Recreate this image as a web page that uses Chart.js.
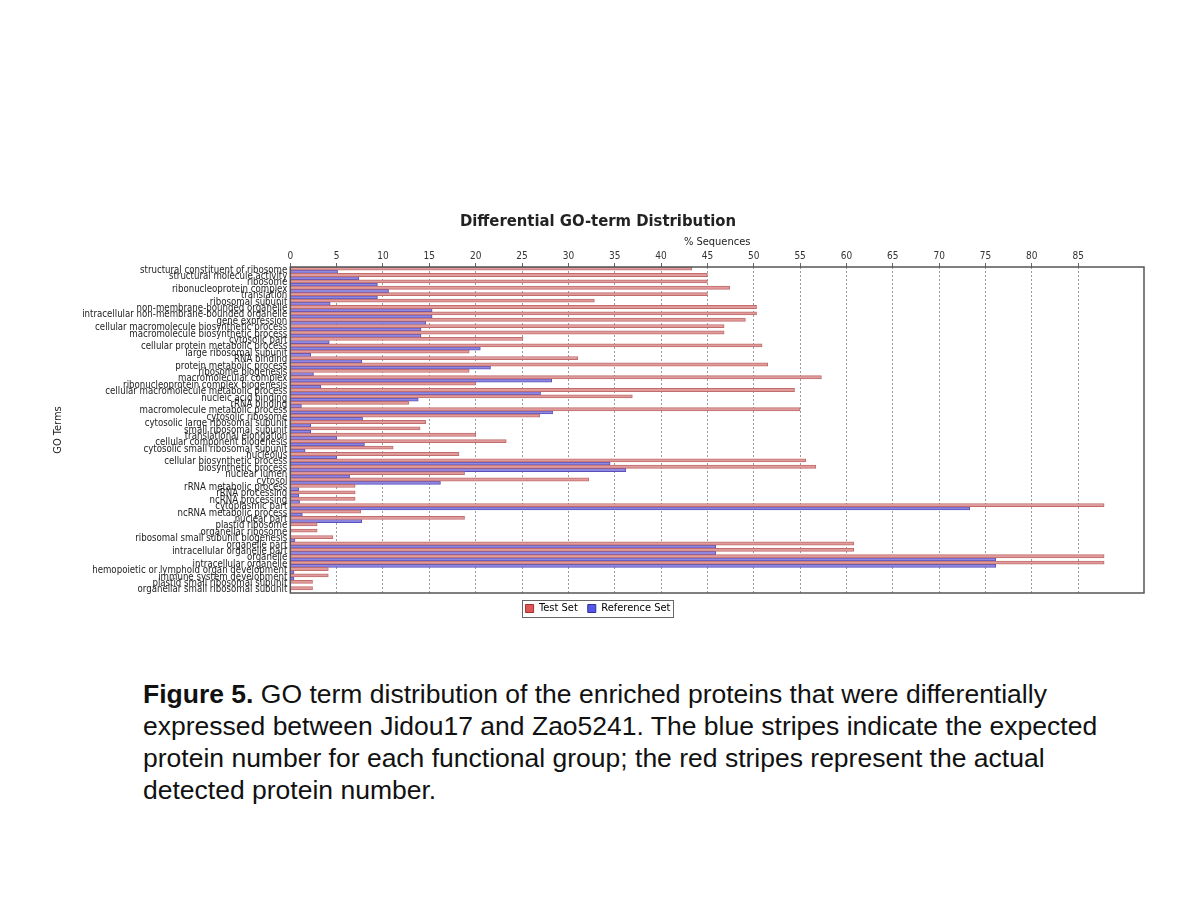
<!DOCTYPE html>
<html>
<head>
<meta charset="utf-8">
<script src="https://cdn.jsdelivr.net/npm/chart.js@4/dist/chart.umd.min.js"></script>
<style>
  html, body { margin: 0; padding: 0; background: #fff; }
  body { width: 1200px; height: 900px; position: relative; overflow: hidden; }
  #wrap { position: absolute; left: 30px; top: 208px; width: 1130px; height: 416px; }
  #caption {
    position: absolute; left: 143px; top: 678px; width: 1050px;
    font-family: 'Liberation Sans', Arial, sans-serif; font-size: 26.5px;
    line-height: 32px; color: #111; white-space: nowrap;
  }
</style>
</head>
<body>
<div id="wrap"><canvas id="chart"></canvas></div>
<div id="caption">
  <b>Figure 5.</b> GO term distribution of the enriched proteins that were differentially<br>
  expressed between Jidou17 and Zao5241. The blue stripes indicate the expected<br>
  protein number for each functional group; the red stripes represent the actual<br>
  detected protein number.
</div>
<script>
// ─── Data ─────────────────────────────────────────────────────────────────────

const categories = [
  'structural constituent of ribosome', 'structural molecule activity', 'ribosome',
  'ribonucleoprotein complex', 'translation', 'ribosomal subunit',
  'non-membrane-bounded organelle', 'intracellular non-membrane-bounded organelle',
  'gene expression', 'cellular macromolecule biosynthetic process',
  'macromolecule biosynthetic process', 'cytosolic part', 'cellular protein metabolic process',
  'large ribosomal subunit', 'RNA binding', 'protein metabolic process', 'ribosome biogenesis',
  'macromolecular complex', 'ribonucleoprotein complex biogenesis',
  'cellular macromolecule metabolic process', 'nucleic acid binding', 'rRNA binding',
  'macromolecule metabolic process', 'cytosolic ribosome', 'cytosolic large ribosomal subunit',
  'small ribosomal subunit', 'translational elongation', 'cellular component biogenesis',
  'cytosolic small ribosomal subunit', 'nucleolus', 'cellular biosynthetic process',
  'biosynthetic process', 'nuclear lumen', 'cytosol', 'rRNA metabolic process',
  'rRNA processing', 'ncRNA processing', 'cytoplasmic part', 'ncRNA metabolic process',
  'nuclear part', 'plastid ribosome', 'organellar ribosome',
  'ribosomal small subunit biogenesis', 'organelle part', 'intracellular organelle part',
  'organelle', 'intracellular organelle', 'hemopoietic or lymphoid organ development',
  'immune system development', 'plastid small ribosomal subunit',
  'organellar small ribosomal subunit',
];

const testSet = [
  43.3, 45.0, 45.0, 47.4, 45.0, 32.8, 50.3, 50.3, 49.1, 46.8,
  46.8, 25.1, 50.9, 19.3, 31.0, 51.5, 19.3, 57.3, 20.0, 54.4,
  36.9, 12.8, 55.0, 26.9, 14.6, 14.0, 20.0, 23.3, 11.1, 18.2,
  55.6, 56.7, 18.8, 32.2, 7.0, 7.0, 7.0, 87.8, 7.6, 18.8,
  2.9, 2.9, 4.6, 60.8, 60.8, 87.8, 87.8, 4.1, 4.1, 2.4,
  2.4,
];

const referenceSet = [
  5.1, 7.4, 9.4, 10.6, 9.4, 4.3, 15.3, 15.3, 14.6, 14.1,
  14.1, 4.2, 20.5, 2.2, 7.7, 21.6, 2.5, 28.2, 3.3, 27.0,
  13.8, 1.2, 28.3, 7.8, 2.2, 2.2, 5.0, 8.0, 1.6, 5.0,
  34.5, 36.2, 6.4, 16.2, 0.9, 0.9, 1.0, 73.3, 1.3, 7.7,
  0, 0, 0.5, 45.9, 45.9, 76.1, 76.1, 0.4, 0.4, 0,
  0,
];

const X_MAX  = 92.1;
const X_STEP = 5;

// ─── Styling ──────────────────────────────────────────────────────────────────

const COLORS = {
  test:        '#e09c9c',
  test_edge:   '#c26c6c',
  test_key:    '#e05555',
  ref:         '#8f87e0',
  ref_edge:    '#5850bc',
  ref_key:     '#5555e8',
  grid:        '#9a9a9a',
  frame:       '#555',
  text:        '#333',
};

const LABEL_FONT = "'DejaVu Sans Condensed','DejaVu Sans',sans-serif";

// plot frame + legend border
const framePlugin = {
  id: 'frame',
  afterDatasetsDraw(chart) {
    const { ctx, chartArea: a } = chart;
    ctx.save();
    ctx.strokeStyle = COLORS.frame;
    ctx.lineWidth = 1.5;
    ctx.strokeRect(a.left, a.top, a.right - a.left, a.bottom - a.top);
    ctx.restore();
  },
  afterDraw(chart) {
    const lg = chart.legend;
    if (!lg || !lg.legendHitBoxes.length) return;
    const boxes = lg.legendHitBoxes;
    const x0 = boxes[0].left - 4;
    const last = boxes[boxes.length - 1];
    const x1 = last.left + last.width + 2;
    const y0 = boxes[0].top - 3;
    const y1 = boxes[0].top + boxes[0].height + 3;
    const { ctx } = chart;
    ctx.save();
    ctx.strokeStyle = '#666';
    ctx.lineWidth = 1;
    ctx.strokeRect(Math.round(x0) + 0.5, Math.round(y0) + 0.5, Math.round(x1 - x0), Math.round(y1 - y0));
    ctx.restore();
  },
};

new Chart(document.getElementById('chart'), {
  type: 'bar',
  data: {
    labels: categories,
    datasets: [
      {
        label: 'Test Set',
        data: testSet,
        backgroundColor: COLORS.test,
        borderColor: COLORS.test_edge,
        borderWidth: 1,
        categoryPercentage: 1,
        barPercentage: 1,
      },
      {
        label: 'Reference Set',
        data: referenceSet,
        backgroundColor: COLORS.ref,
        borderColor: COLORS.ref_edge,
        borderWidth: 1,
        categoryPercentage: 1,
        barPercentage: 1,
      },
    ],
  },
  options: {
    indexAxis: 'y',
    responsive: true,
    maintainAspectRatio: false,
    animation: false,
    layout: { padding: { left: 22, right: 16, top: 0, bottom: 0 } },
    plugins: {
      title: {
        display: true,
        text: 'Differential GO-term Distribution',
        color: '#222',
        font: { family: LABEL_FONT, size: 16.5, weight: 'bold' },
        padding: { top: 4, bottom: 2 },
      },
      legend: {
        position: 'bottom',
        labels: {
          boxWidth: 8,
          boxHeight: 8,
          padding: 10,
          color: '#222',
          font: { family: LABEL_FONT, size: 11 },
          generateLabels: chart => [
            { text: 'Test Set', fillStyle: COLORS.test_key, strokeStyle: '#a03030', lineWidth: 1, datasetIndex: 0 },
            { text: 'Reference Set', fillStyle: COLORS.ref_key, strokeStyle: '#3030a0', lineWidth: 1, datasetIndex: 1 },
          ],
        },
      },
      tooltip: { enabled: false },
    },
    scales: {
      x: {
        position: 'top',
        min: 0,
        max: X_MAX,
        afterBuildTicks: scale => {
          scale.ticks = scale.ticks.filter(t => Math.abs(t.value % X_STEP) < 1e-6);
        },
        ticks: {
          stepSize: X_STEP,
          color: COLORS.text,
          padding: 1,
          font: { family: LABEL_FONT, size: 10 },
        },
        grid: {
          color: COLORS.grid,
          tickLength: 4,
          tickColor: '#666',
          tickBorderDash: [],
        },
        border: { display: false, dash: [2, 2] },
        title: {
          display: true,
          text: '% Sequences',
          color: '#222',
          padding: { top: 2, bottom: 0 },
          font: { family: LABEL_FONT, size: 11 },
        },
      },
      y: {
        ticks: {
          autoSkip: false,
          color: '#222',
          padding: 3,
          font: { family: LABEL_FONT, size: 9.6 },
        },
        grid: { display: false, drawTicks: false },
        border: { display: false },
        title: {
          display: true,
          text: 'GO Terms',
          color: '#222',
          padding: { top: 0, bottom: 14 },
          font: { family: LABEL_FONT, size: 11 },
        },
      },
    },
  },
  plugins: [framePlugin],
});
</script>
</body>
</html>
